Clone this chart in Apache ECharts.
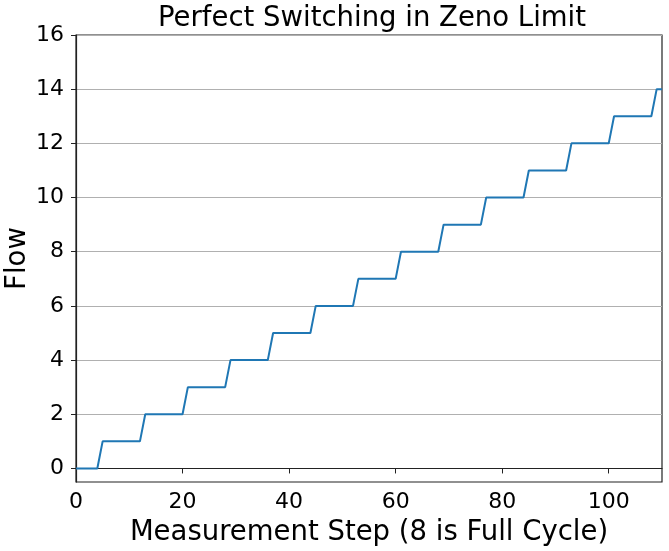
<!DOCTYPE html>
<html>
<head>
<meta charset="utf-8">
<script src="https://cdn.jsdelivr.net/npm/echarts@6/dist/echarts.min.js"></script>
<style>
html, body { margin: 0; padding: 0; background: #fff; }
#container { width: 669px; height: 551px; }
</style>
</head>
<body>
<div id="container"></div>
<script>
// corner points of the staircase (measurement step, flow)
var stepX = [0, 4, 5, 12, 13, 20, 21, 28, 29, 36, 37, 44, 45, 52, 53, 60, 61, 68, 69, 76, 77, 84, 85, 92, 93, 100, 101, 108, 109, 110];
var flowY = [0, 0, 1, 1, 2, 2, 3, 3, 4, 4, 5, 5, 6, 6, 7, 7, 8, 8, 9, 9, 10, 10, 11, 11, 12, 12, 13, 13, 14, 14];
var xTicks = [0, 20, 40, 60, 80, 100];
var yTicks = [0, 2, 4, 6, 8, 10, 12, 14, 16];

var font = 'DejaVu Sans';
var dom = document.getElementById("container");
var myChart = echarts.init(dom);

var data = [];
for (var i = 0; i < stepX.length; i++) {
    data.push([stepX[i], flowY[i]]);
}

var option = {
    animation: false,
    title: {
        text: 'Perfect Switching in Zeno Limit',
        left: 367,
        top: 0,
        textAlign: 'center',
        textStyle: { fontFamily: font, fontSize: 27.5, fontWeight: 'normal', color: '#000' }
    },
    grid: {
        left: 76, right: 7, top: 35, bottom: 69,
        containLabel: false,
        outerBoundsMode: 'none',
        show: true, borderColor: '#222', borderWidth: 1.2
    },
    xAxis: {
        type: 'value',
        min: 0, max: 110,
        name: 'Measurement Step (8 is Full Cycle)',
        nameLocation: 'middle',
        nameGap: 37,
        nameMoveOverlap: false,
        nameTextStyle: { fontFamily: font, fontSize: 27.5, color: '#000' },
        axisLine: { lineStyle: { color: '#222', width: 1.2 } },
        axisTick: { show: true, length: 5, customValues: xTicks, lineStyle: { color: '#222' } },
        axisLabel: { customValues: xTicks, fontFamily: font, fontSize: 22, color: '#000', margin: 9 },
        splitLine: { show: false }
    },
    yAxis: {
        type: 'value',
        min: -0.5, max: 16,
        name: 'Flow',
        nameLocation: 'middle',
        nameGap: 44,
        nameMoveOverlap: false,
        nameTextStyle: { fontFamily: font, fontSize: 27.5, color: '#000' },
        axisLine: { show: true, lineStyle: { color: '#222', width: 1.2 } },
        axisTick: { show: true, length: 5, customValues: yTicks, lineStyle: { color: '#222' } },
        axisLabel: { customValues: yTicks, fontFamily: font, fontSize: 22, color: '#000', margin: 12 },
        splitLine: { show: true, lineStyle: { color: '#b0b0b0', width: 1 } }
    },
    series: [{
        type: 'line',
        data: data,
        symbol: 'none',
        lineStyle: { color: '#1f77b4', width: 2 },
        itemStyle: { color: '#1f77b4' }
    }]
};

myChart.setOption(option, true);
</script>
</body>
</html>
